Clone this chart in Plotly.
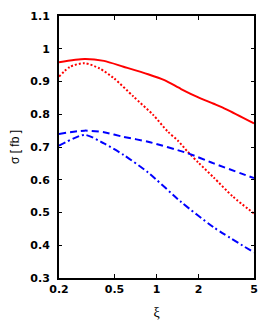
import plotly.graph_objects as go

xi_red_solid = [0.2, 0.305, 0.42, 0.58, 0.87, 1.14, 1.5, 1.96, 2.57, 3.17, 5.0]
red_solid = [0.959, 0.969, 0.963, 0.945, 0.922, 0.904, 0.877, 0.853, 0.832, 0.815, 0.772]

xi_red_dot = [0.2, 0.24, 0.305, 0.39, 0.495, 0.684, 0.946, 1.205, 1.42, 1.67, 2.0, 2.57, 3.54, 5.0]
red_dot = [0.915, 0.945, 0.956, 0.940, 0.910, 0.854, 0.798, 0.747, 0.720, 0.686, 0.652, 0.607, 0.548, 0.497]

xi_blue_dash = [0.2, 0.305, 0.42, 0.58, 0.87, 1.67, 2.57, 5.0]
blue_dash = [0.740, 0.750, 0.745, 0.731, 0.716, 0.681, 0.650, 0.605]

xi_blue_dashdot = [0.2, 0.305, 0.42, 0.58, 0.872, 1.494, 2.565, 5.0]
blue_dashdot = [0.704, 0.737, 0.711, 0.676, 0.622, 0.533, 0.455, 0.378]

xticks = [0.2, 0.5, 1, 2, 5]
xticklabels = ["0.2", "0.5", "1", "2", "5"]
yticks = [0.3, 0.4, 0.5, 0.6, 0.7, 0.8, 0.9, 1.0, 1.1]
yticklabels = ["0.3", "0.4", "0.5", "0.6", "0.7", "0.8", "0.9", "1", "1.1"]

fig = go.Figure()
fig.add_trace(go.Scatter(x=xi_red_solid, y=red_solid, mode="lines",
                         line=dict(color="#ff0000", width=2, shape="spline", smoothing=0.7)))
fig.add_trace(go.Scatter(x=xi_red_dot, y=red_dot, mode="lines",
                         line=dict(color="#ff0000", width=2, dash="2px,2px", shape="spline", smoothing=0.7)))
fig.add_trace(go.Scatter(x=xi_blue_dash, y=blue_dash, mode="lines",
                         line=dict(color="#0000ff", width=2, dash="7px,4px", shape="spline", smoothing=0.7)))
fig.add_trace(go.Scatter(x=xi_blue_dashdot, y=blue_dashdot, mode="lines",
                         line=dict(color="#0000ff", width=2, dash="7px,3px,2px,3px", shape="spline", smoothing=0.7)))

tickfont = dict(family="DejaVu Sans, sans-serif", size=11, color="black", weight="bold")
fig.update_layout(
    width=266, height=335,
    margin=dict(l=59, r=8, t=16, b=57),
    paper_bgcolor="white", plot_bgcolor="white",
    showlegend=False,
    xaxis=dict(type="log", range=[-0.69897, 0.69897], tickvals=xticks, ticktext=xticklabels,
               ticks="inside", ticklen=4, tickwidth=1, tickcolor="black",
               showline=True, linewidth=2, linecolor="black", mirror="ticks",
               showgrid=False, zeroline=False, tickfont=tickfont,
               title=dict(text="ξ", font=dict(family="Liberation Serif, serif", size=14, color="black"), standoff=12)),
    yaxis=dict(range=[0.3, 1.1], tickvals=yticks, ticktext=yticklabels,
               ticks="inside", ticklen=3, tickwidth=1, tickcolor="black",
               showline=True, linewidth=2, linecolor="black", mirror="ticks",
               showgrid=False, zeroline=False, tickfont=tickfont, ticklabelstandoff=5,
               title=dict(text="σ [ fb ]", font=dict(family="Liberation Sans, Arial, sans-serif", size=12, color="black"), standoff=8)),
)
fig.write_html("out.html", config={"displayModeBar": False}, post_script="document.body.style.margin='0';")
